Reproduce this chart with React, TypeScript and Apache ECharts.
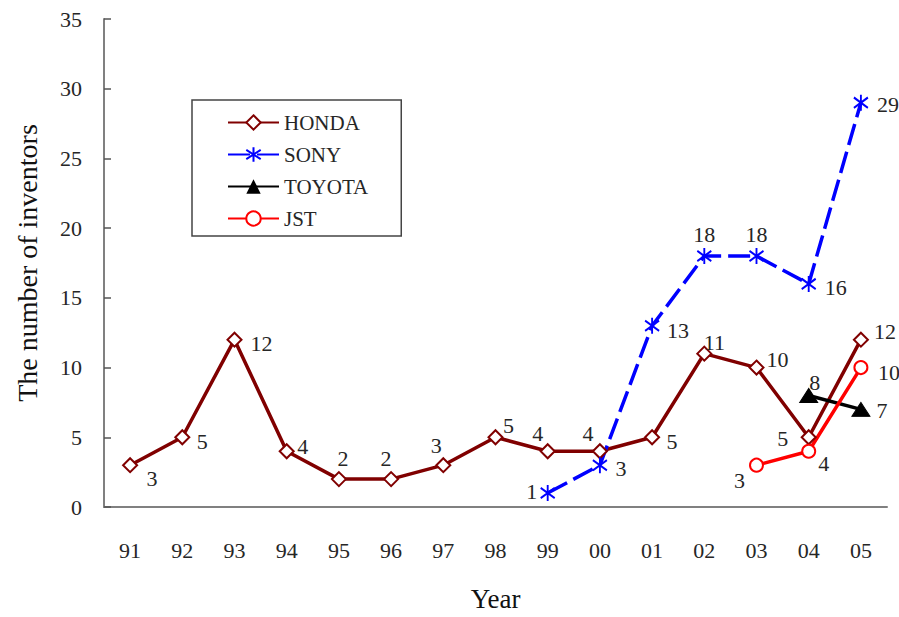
import React, { useEffect, useRef } from "react";
import * as echarts from "echarts";

const years = ["91", "92", "93", "94", "95", "96", "97", "98", "99", "00", "01", "02", "03", "04", "05"];
const honda: (number | null)[] = [3, 5, 12, 4, 2, 2, 3, 5, 4, 4, 5, 11, 10, 5, 12];
const sony: (number | null)[] = [null, null, null, null, null, null, null, null, 1, 3, 13, 18, 18, 16, 29];
const toyota: (number | null)[] = [null, null, null, null, null, null, null, null, null, null, null, null, null, 8, 7];
const jst: (number | null)[] = [null, null, null, null, null, null, null, null, null, null, null, null, 3, 4, 10];

// label placement relative to each point (style, not data)
const hondaLabelOffsets = [[22, 13], [20, 4], [27, 4], [16, -5], [4, -21], [-5, -21], [-7, -20], [13, -12], [-10, -18], [-12, -18], [20, 4], [10, -11], [21, -8], [-26, 1], [24, -8]];
const sonyLabelOffsets = [[0, 0], [0, 0], [0, 0], [0, 0], [0, 0], [0, 0], [0, 0], [0, 0], [-16, -2], [21, 3], [26, 5], [0, -22], [0, -22], [27, 4], [27, 2]];
const toyotaLabelOffsets = [[0, 0], [0, 0], [0, 0], [0, 0], [0, 0], [0, 0], [0, 0], [0, 0], [0, 0], [0, 0], [0, 0], [0, 0], [0, 0], [6, -13], [21, 1]];
const jstLabelOffsets = [[0, 0], [0, 0], [0, 0], [0, 0], [0, 0], [0, 0], [0, 0], [0, 0], [0, 0], [0, 0], [0, 0], [0, 0], [-17, 15], [15, 12], [28, 5]];

const FONT = "'Liberation Serif', 'Times New Roman', serif";
const TEXT = "#262626";
const ASTERISK = "path://M0,-7L0,7M-6,-4.5L6,4.5M-6,4.5L6,-4.5";

function buildData(values: (number | null)[], offsets: number[][]) {
  return values.map((v, i) =>
    v == null ? "-" : { value: v, label: { offset: offsets[i] } }
  );
}

export default function App() {
  const ref = useRef<HTMLDivElement>(null);
  useEffect(() => {
    if (!ref.current) return;
    const chart = echarts.init(ref.current, null, { renderer: "svg" });
    const label = {
      show: true,
      position: "inside",
      color: TEXT,
      fontSize: 22,
      fontFamily: FONT,
    };
    chart.setOption({
      animation: false,
      backgroundColor: "#ffffff",
      textStyle: { fontFamily: FONT },
      grid: { left: 104, right: 12, top: 19, bottom: 108 },
      legend: {
        orient: "vertical",
        left: 192,
        top: 100,
        padding: [12, 33, 7, 35],
        itemGap: 11,
        itemWidth: 51,
        itemHeight: 18,
        borderColor: "#444",
        borderWidth: 1.5,
        backgroundColor: "#fff",
        textStyle: { fontSize: 21, fontFamily: FONT, color: TEXT },
        data: ["HONDA", "SONY", "TOYOTA", "JST"],
      },
      xAxis: {
        type: "category",
        data: years,
        boundaryGap: true,
        name: "Year",
        nameLocation: "middle",
        nameGap: 78,
        nameTextStyle: { fontSize: 27, fontFamily: FONT, color: "#111" },
        axisLine: { lineStyle: { color: "#808080", width: 2 } },
        axisTick: { inside: true, length: 7, lineStyle: { color: "#555", width: 1.5 } },
        axisLabel: { margin: 32, fontSize: 22, fontFamily: FONT, color: TEXT },
      },
      yAxis: {
        type: "value",
        min: 0,
        max: 35,
        interval: 5,
        name: "The number of inventors",
        nameLocation: "middle",
        nameGap: 63,
        nameTextStyle: { fontSize: 28, fontFamily: FONT, color: "#111" },
        axisLine: { show: true, lineStyle: { color: "#808080", width: 2 } },
        axisTick: { show: true, inside: true, length: 7, lineStyle: { color: "#555", width: 1.5 } },
        axisLabel: { margin: 22, fontSize: 22, fontFamily: FONT, color: TEXT },
        splitLine: { show: false },
      },
      series: [
        {
          name: "HONDA",
          type: "line",
          data: buildData(honda, hondaLabelOffsets),
          symbol: "diamond",
          symbolSize: 14,
          showAllSymbol: true,
          lineStyle: { color: "#800000", width: 3.5 },
          itemStyle: { color: "#ffffff", borderColor: "#800000", borderWidth: 2 },
          label,
        },
        {
          name: "SONY",
          type: "line",
          data: buildData(sony, sonyLabelOffsets),
          symbol: ASTERISK,
          symbolSize: [14, 16],
          showAllSymbol: true,
          lineStyle: { color: "#0000ff", width: 3.5, type: [22, 7] },
          itemStyle: { color: "#0000ff", borderColor: "#0000ff", borderWidth: 2 },
          label,
        },
        {
          name: "TOYOTA",
          type: "line",
          data: buildData(toyota, toyotaLabelOffsets),
          symbol: "triangle",
          symbolSize: [18, 14],
          showAllSymbol: true,
          lineStyle: { color: "#000000", width: 3.5 },
          itemStyle: { color: "#000000", borderColor: "#000000" },
          label,
        },
        {
          name: "JST",
          type: "line",
          data: buildData(jst, jstLabelOffsets),
          symbol: "circle",
          symbolSize: 13,
          showAllSymbol: true,
          lineStyle: { color: "#ff0000", width: 3.5 },
          itemStyle: { color: "#ffffff", borderColor: "#ff0000", borderWidth: 2 },
          label,
        },
      ],
    });
    return () => chart.dispose();
  }, []);
  return (
    <div
      ref={ref}
      style={{ position: "fixed", left: 0, top: 0, width: 899, height: 617 }}
    />
  );
}
